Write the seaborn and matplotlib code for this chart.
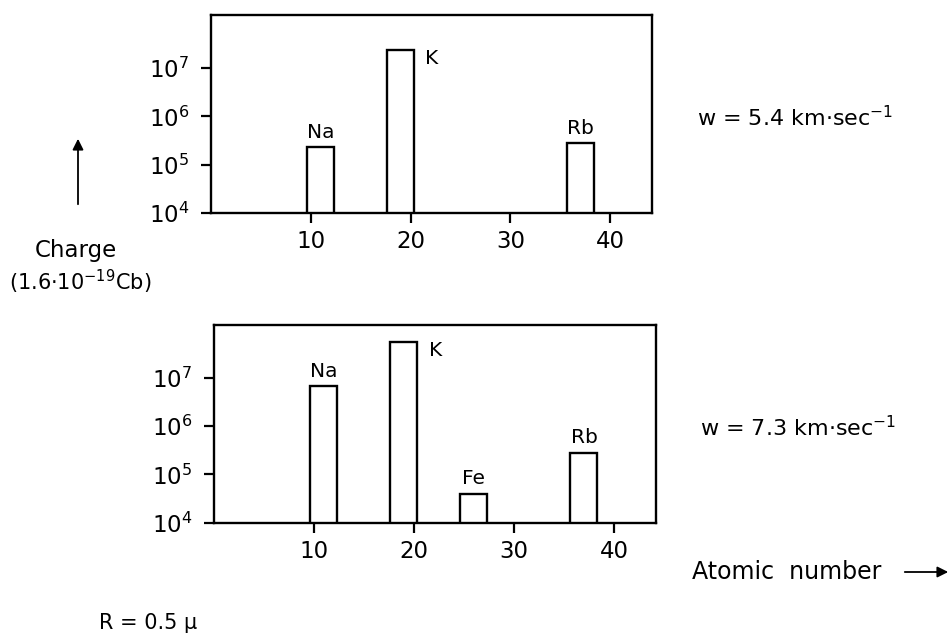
import matplotlib
matplotlib.use("Agg")
import matplotlib.pyplot as plt
from matplotlib.patches import FancyArrowPatch
from matplotlib.ticker import NullLocator
import numpy as np
import pandas as pd
import seaborn as sns

# Charge carried by each ion species, first run
elements_top = ["Na", "K", "Rb"]
atomic_top = [11, 19, 37]
charge_top = [2.3e5, 2.4e7, 2.75e5]

# Charge carried by each ion species, second run
elements_bottom = ["Na", "K", "Fe", "Rb"]
atomic_bottom = [11, 19, 26, 37]
charge_bottom = [6.7e6, 5.6e7, 3.9e4, 2.8e5]

velocity_labels = ["w = 5.4 km\u00b7sec$^{-1}$", "w = 7.3 km\u00b7sec$^{-1}$"]
x_ticks = [10, 20, 30, 40]
y_ticks = [1e4, 1e5, 1e6, 1e7]

sns.set_theme(style="ticks")
plt.rcParams["font.family"] = ["DejaVu Sans"]
plt.rcParams["mathtext.default"] = "regular"
plt.rcParams["mathtext.fontset"] = "dejavusans"
plt.rcParams["text.color"] = "black"
plt.rcParams["xtick.color"] = "black"
plt.rcParams["ytick.color"] = "black"

BAR_WIDTH = 2.7  # in atomic-number units
FS_TICK = 16.5
FS_EL = 14.5
FS_TXT = 16

fig = plt.figure(figsize=(9.53, 6.41), dpi=100)
ax_top = fig.add_axes([211 / 953, 1 - 213 / 641, 441 / 953, 198 / 641])
ax_bot = fig.add_axes([214 / 953, 1 - 522.5 / 641, 442 / 953, 197.5 / 641])


def draw_panel(ax, elements, atomic, charge):
    df = pd.DataFrame({"element": elements, "z": atomic, "charge": charge})
    gap = np.min(np.diff(sorted(atomic)))
    ax.set_yscale("log")
    sns.barplot(data=df, x="z", y="charge", native_scale=True,
                width=BAR_WIDTH / gap, color="white", edgecolor="black",
                linewidth=1.7, errorbar=None, saturation=1, ax=ax, zorder=2)
    ax.set_xlim(0, 44.2)
    ax.set_ylim(1e4, 10 ** 8.1)
    ax.set_xticks(x_ticks)
    ax.set_xticklabels([str(t) for t in x_ticks])
    ax.set_yticks(y_ticks)
    ax.yaxis.set_minor_locator(NullLocator())
    ax.xaxis.set_minor_locator(NullLocator())
    ax.set_xlabel("")
    ax.set_ylabel("")
    for s in ax.spines.values():
        s.set_visible(True)
        s.set_linewidth(1.7)
        s.set_color("black")
        s.set_zorder(5)
    ax.tick_params(axis="both", direction="out", length=7.5, width=1.6,
                   labelsize=FS_TICK, colors="black")
    ax.tick_params(axis="x", pad=5)
    ax.tick_params(axis="y", pad=8)
    ax.grid(False)
    ax.set_facecolor("white")
    for el, z, c in zip(elements, atomic, charge):
        if el == "K":
            ax.annotate(el, xy=(z + BAR_WIDTH / 2, c), xytext=(8, -6),
                        textcoords="offset points", ha="left", va="center",
                        fontsize=FS_EL)
        else:
            ax.annotate(el, xy=(z, c), xytext=(0, 4),
                        textcoords="offset points", ha="center", va="bottom",
                        fontsize=FS_EL)


draw_panel(ax_top, elements_top, atomic_top, charge_top)
draw_panel(ax_bot, elements_bottom, atomic_bottom, charge_bottom)

# Velocity annotations
fig.text(697 / 953, 1 - 118 / 641, velocity_labels[0], ha="left", va="center",
         fontsize=FS_TXT)
fig.text(700 / 953, 1 - 428 / 641, velocity_labels[1], ha="left", va="center",
         fontsize=FS_TXT)

# Vertical axis quantity with its arrow
fig.text(76 / 953, 1 - 250 / 641, "Charge", ha="center", va="center",
         fontsize=16.5)
fig.text(80 / 953, 1 - 282 / 641, "(1.6\u00b710$^{-19}$Cb)", ha="center",
         va="center", fontsize=15)
fig.add_artist(FancyArrowPatch((78 / 953, 1 - 207 / 641), (78 / 953, 1 - 136 / 641),
                               transform=fig.transFigure, arrowstyle="-|>",
                               mutation_scale=16, linewidth=1.3, color="black"))

# Horizontal axis quantity with its arrow
fig.text(692 / 953, 1 - 572 / 641, "Atomic  number", ha="left", va="center",
         fontsize=17)
fig.add_artist(FancyArrowPatch((902 / 953, 1 - 572 / 641), (951 / 953, 1 - 572 / 641),
                               transform=fig.transFigure, arrowstyle="-|>",
                               mutation_scale=16, linewidth=1.3, color="black"))

# Particle radius
fig.text(99 / 953, 1 - 623 / 641, "R = 0.5 \u00b5", ha="left", va="center",
         fontsize=15)

fig.savefig("out.png", dpi=100, facecolor="white")
